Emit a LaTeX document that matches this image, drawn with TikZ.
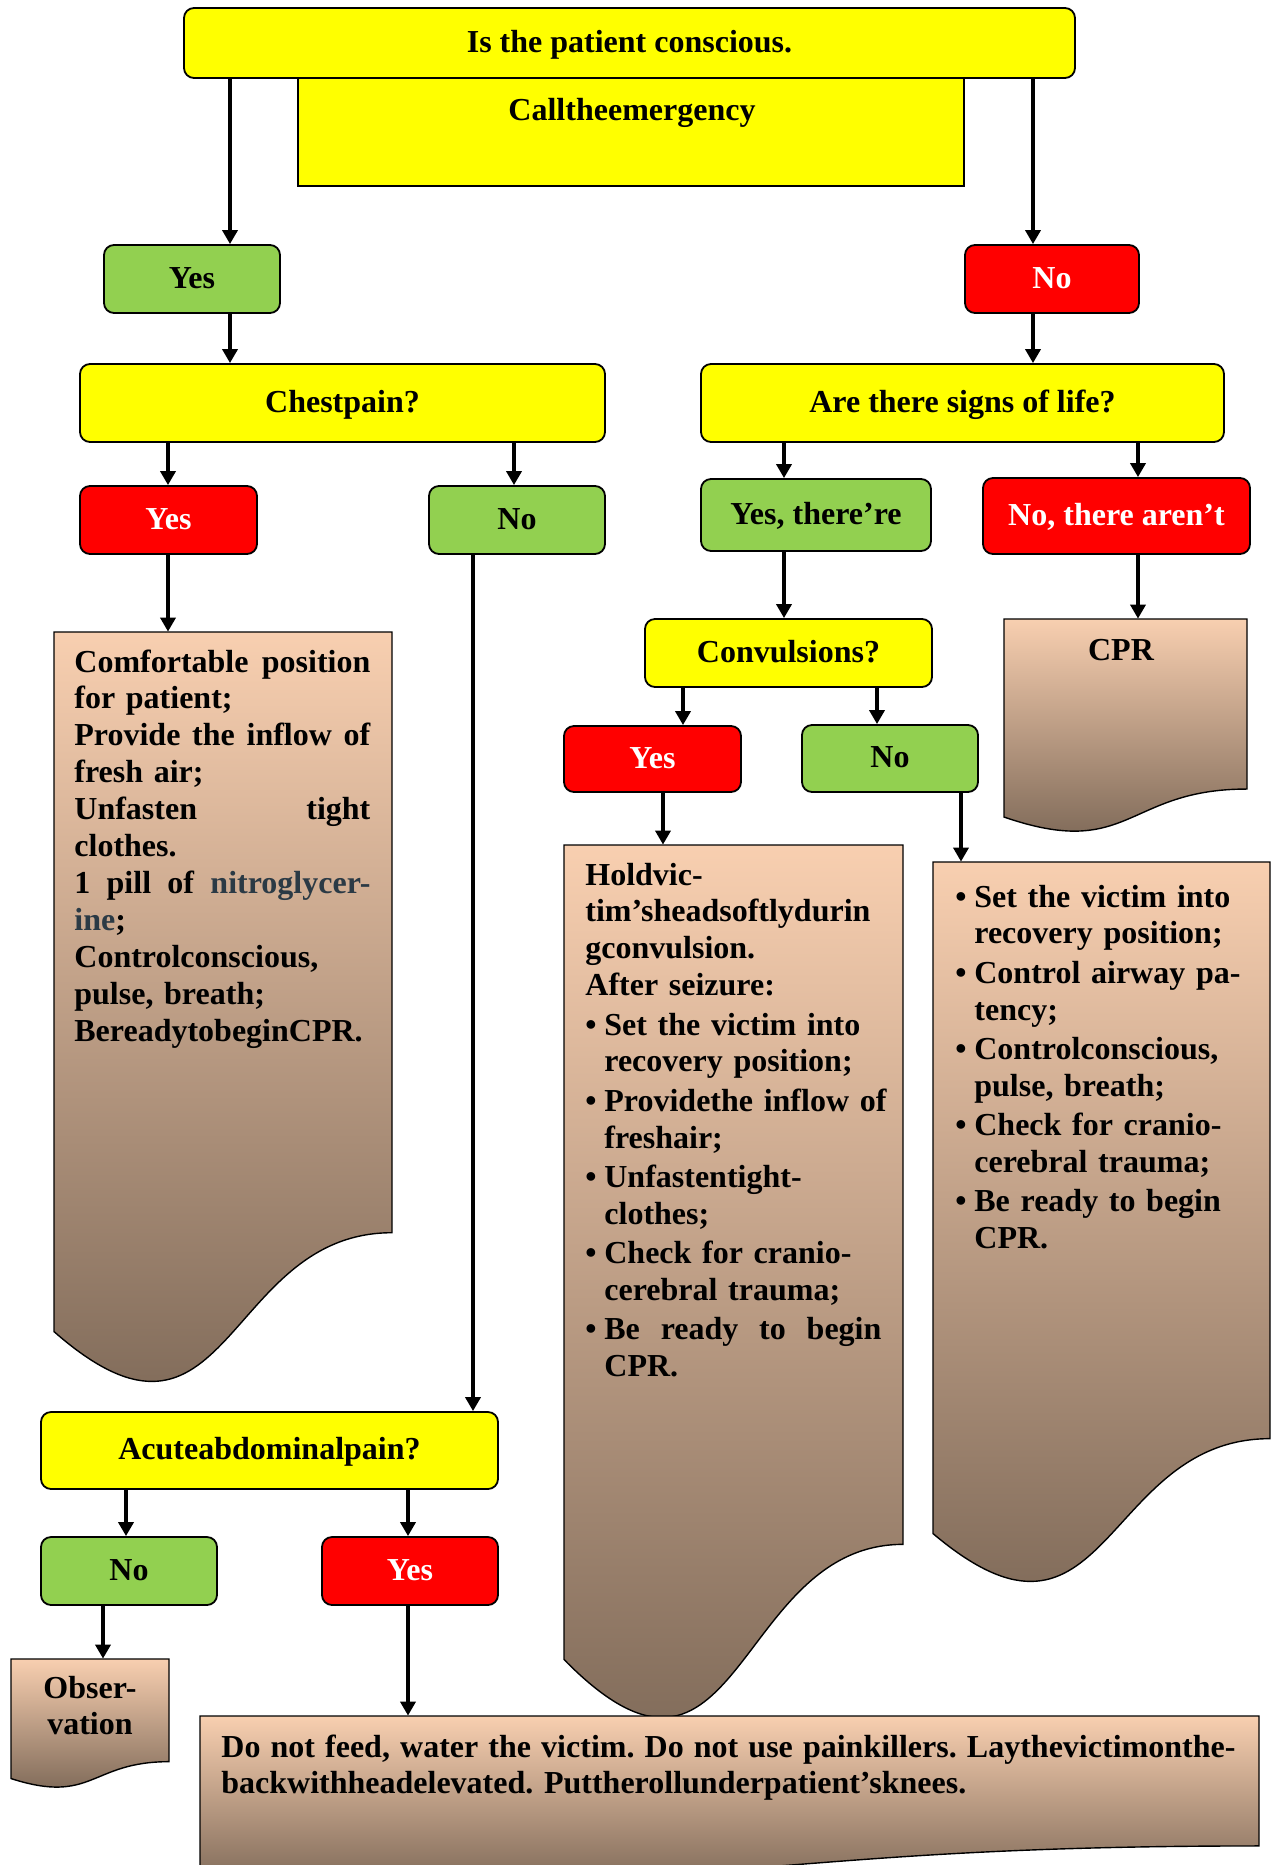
\documentclass[tikz,border=0pt]{standalone}
\usepackage{fontspec}
\setmainfont{Liberation Serif}
\usetikzlibrary{arrows.meta,fit}
\frenchspacing

\definecolor{boxyellow}{HTML}{FFFF00}
\definecolor{boxgreen}{HTML}{92D050}
\definecolor{boxred}{HTML}{FF0000}
\definecolor{docpeach}{HTML}{F8CFB0}
\definecolor{docbrown}{HTML}{736050}
\definecolor{drugblue}{HTML}{2B3A45}

\newcommand{\flowfont}{\bfseries\fontsize{16pt}{18.45pt}\selectfont}
\newcommand{\bul}{\makebox[9.5pt][l]{\textbullet}}
\newcommand{\ind}{\hspace*{9.5pt}}
% a line whose word spaces stretch to the given width
\newcommand{\spread}[2]{\leavevmode\hbox to #1{\spaceskip=0.25em plus 1fil\relax #2}}

% box node given by its corners: style, name, x1, y1, x2, y2, text
\newcommand{\flowbox}[7]{%
  \node[#1, minimum width={(#5-#3)*0.5pt}, minimum height={(#6-#4)*0.5pt}]
    (#2) at ({(#3+#5)/2},{(#4+#6)/2}) {#7};
}

% flowchart "document" symbol: name, left x, top y, right x, nominal height
\newcommand{\flowdoc}[5]{%
  \path[docframe] (#2,#3) -- (#4,#3) -- (#4,{#3+0.802*#5})
    .. controls ({(#2+#4)/2},{#3+0.802*#5}) and ({0.48*#2+0.52*#4},{#3+1.14*#5}) ..
    (#2,{#3+0.934*#5}) -- cycle;
  \node[inner sep=0pt, fit={(#2,#3)(#4,{#3+#5})}] (#1) {};
}

\tikzset{
  choice/.style={draw=black, line width=0.9pt, rounded corners=5pt, inner sep=0pt,
                 font=\flowfont, text height=12pt, text depth=3pt},
  qbox/.style={choice, fill=boxyellow},
  greenbox/.style={choice, fill=boxgreen},
  redbox/.style={choice, fill=boxred, text=white},
  callbox/.style={draw=black, line width=0.7pt, fill=boxyellow, inner sep=0pt},
  docframe/.style={draw=black, line width=0.7pt, top color=docpeach, bottom color=docbrown},
  doctext/.style={anchor=base west, inner sep=0pt, align=left, font=\flowfont},
  arr/.style={line width=1.9pt, -{Triangle[length=7pt,width=7.5pt]}},
}

\begin{document}
\begin{tikzpicture}[x=0.5pt, y=-0.5pt]
\useasboundingbox (0,0) rectangle (1280,1865);

% columns of the vertical connectors
\foreach \n/\x in {xa/230, xb/1033, xc/168, xd/514, xe/473, xf/784, xg/1138,
                   xh/683, xi/663, xj/877, xk/961, xl/126, xm/408, xn/103}
  \coordinate (\n) at (\x,0);

% top question and call note
\flowbox{callbox}{call}{298}{78}{964}{186}{}
\node[font=\flowfont, anchor=base, inner sep=0pt] (calltext) at (632,120) {Calltheemergency};
\flowbox{qbox}{conscious}{184}{8}{1075}{78}{Is the patient conscious.}

% first answers
\flowbox{greenbox}{yes1}{104}{245}{280}{313}{Yes}
\flowbox{redbox}{no1}{965}{245}{1139}{313}{No}

% second level questions
\flowbox{qbox}{chest}{80}{364}{605}{442}{Chestpain?}
\flowbox{qbox}{signs}{701}{364}{1224}{442}{Are there signs of life?}

\flowbox{redbox}{chestyes}{80}{486}{257}{554}{Yes}
\flowbox{greenbox}{chestno}{429}{486}{605}{554}{No}
\flowbox{greenbox}{there}{701}{479}{931}{551}{Yes, there’re}
\flowbox{redbox}{notthere}{983}{478}{1250}{554}{No, there aren’t}

\flowbox{qbox}{conv}{645}{619}{932}{687}{Convulsions?}
\flowbox{redbox}{convyes}{564}{726}{741}{792}{Yes}
\flowbox{greenbox}{convno}{802}{725}{978}{792}{No}

\flowbox{qbox}{acute}{41}{1412}{498}{1489}{Acuteabdominalpain?}
\flowbox{greenbox}{acuteno}{41}{1537}{217}{1605}{No}
\flowbox{redbox}{acuteyes}{322}{1537}{498}{1605}{Yes}

% instruction documents
\flowdoc{comfort}{54}{632}{392}{749}
\node[doctext, text width=148pt] (comforttext) at (74,672) {%
\spread{148pt}{Comfortable position}\\
for patient;\\
\spread{148pt}{Provide the inflow of}\\
fresh air;\\
\spread{148pt}{Unfasten tight}\\
clothes.\\
\spread{148pt}{1 pill of {\color{drugblue}nitroglycer-}}\\
{\color{drugblue}ine};\\
Controlconscious,\\
pulse, breath;\\
BereadytobeginCPR.};

\flowdoc{hold}{564}{845}{903}{872}
\node[doctext, text width=175pt] (holdtext) at (585,885) {%
Holdvic-\\
tim’sheadsoftlydurin\\
gconvulsion.\\
After seizure:\\[1.2pt]
\bul Set the victim into\\
\ind recovery position;\\[1.2pt]
\bul Providethe inflow of\\
\ind freshair;\\[1.2pt]
\bul Unfastentight-\\
\ind clothes;\\[1.2pt]
\bul Check for cranio-\\
\ind cerebral trauma;\\[1.2pt]
\bul \spread{138.5pt}{Be ready to begin}\\
\ind CPR.};

\flowdoc{after}{933}{862}{1270}{719}
\node[doctext, text width=175pt] (aftertext) at (955,907) {%
\bul Set the victim into\\
\ind recovery position;\\[1.2pt]
\bul Control airway pa-\\
\ind tency;\\[1.2pt]
\bul Controlconscious,\\
\ind pulse, breath;\\[1.2pt]
\bul Check for cranio-\\
\ind cerebral trauma;\\[1.2pt]
\bul Be ready to begin\\
\ind CPR.};

\flowdoc{cpr}{1004}{619}{1247}{212}
\node[font=\flowfont, anchor=base, inner sep=0pt] (cprtext) at (1121,660) {CPR};

\flowdoc{obs}{11}{1659}{169}{128}
\node[doctext, anchor=base, align=center, text width=70pt] (obstext) at (90,1698) {Obser-\\vation};

\flowdoc{rest}{200}{1716}{1259}{162}
\node[doctext, text width=509pt] (resttext) at (221,1757) {%
\spread{507pt}{Do not feed, water the victim. Do not use painkillers. Laythevictimonthe-}\\
backwithheadelevated. Puttherollunderpatient’sknees.};

% connectors
\draw[arr] (conscious.south -| xa) -- (yes1.north -| xa);
\draw[arr] (conscious.south -| xb) -- (no1.north -| xb);
\draw[arr] (yes1.south -| xa) -- (chest.north -| xa);
\draw[arr] (no1.south -| xb) -- (signs.north -| xb);
\draw[arr] (chest.south -| xc) -- (chestyes.north -| xc);
\draw[arr] (chest.south -| xd) -- (chestno.north -| xd);
\draw[arr] (chestyes.south -| xc) -- (comfort.north -| xc);
\draw[arr] (chestno.south -| xe) -- (acute.north -| xe);
\draw[arr] (signs.south -| xf) -- (there.north -| xf);
\draw[arr] (signs.south -| xg) -- (notthere.north -| xg);
\draw[arr] (there.south -| xf) -- (conv.north -| xf);
\draw[arr] (notthere.south -| xg) -- (cpr.north -| xg);
\draw[arr] (conv.south -| xh) -- (convyes.north -| xh);
\draw[arr] (conv.south -| xj) -- (convno.north -| xj);
\draw[arr] (convyes.south -| xi) -- (hold.north -| xi);
\draw[arr] (convno.south -| xk) -- (after.north -| xk);
\draw[arr] (acute.south -| xl) -- (acuteno.north -| xl);
\draw[arr] (acute.south -| xm) -- (acuteyes.north -| xm);
\draw[arr] (acuteno.south -| xn) -- (obs.north -| xn);
\draw[arr] (acuteyes.south -| xm) -- (rest.north -| xm);
\end{tikzpicture}
\end{document}
